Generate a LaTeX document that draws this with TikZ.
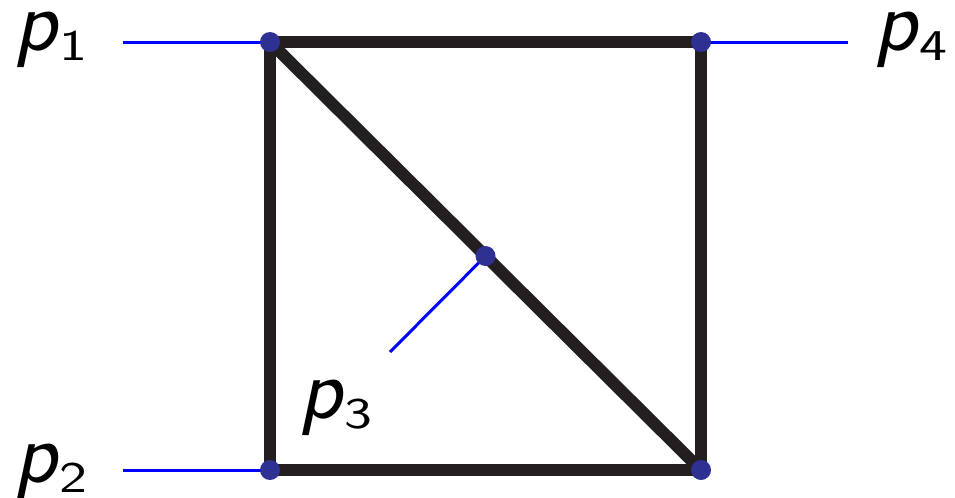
\documentclass[tikz,border=0pt]{standalone}
\usepackage{fontspec}
\usepackage{graphicx}
\definecolor{framec}{RGB}{35,31,32}
\definecolor{dotc}{RGB}{46,49,146}
\definecolor{legc}{RGB}{0,0,255}
\newcommand{\plab}[1]{{\fontsize{50}{54}\selectfont\sffamily\itshape p}\raisebox{-6pt}{\hspace{1.5pt}\scalebox{1.35}[1]{\fontsize{25}{28}\selectfont\sffamily #1}}}
\begin{document}
\begin{tikzpicture}[x=0.02cm,y=-0.02cm,
  frame/.style={draw=framec,line width=0.24cm,line join=miter},
  leg/.style={draw=legc,line width=0.06cm},
  vdot/.style={circle,fill=dotc,inner sep=0pt,minimum size=0.4cm},
  lab/.style={anchor=base west,inner sep=0pt,text=black,text height=20pt,text depth=7pt}]
\useasboundingbox (0,0) rectangle (955,497);
\coordinate (A) at (270,42);
\coordinate (B) at (701,42);
\coordinate (C) at (701,470);
\coordinate (D) at (270,470);
\coordinate (M) at (485.5,256);
\coordinate (e1) at (123,42);
\coordinate (e4) at (848,42);
\coordinate (e2) at (123,470);
\coordinate (e3) at (390,352);
\draw[frame] (A) -- (B) -- (C) -- (D) -- cycle;
\draw[frame] (A) -- (C);
\draw[leg] (e1) -- (A);
\draw[leg] (B) -- (e4);
\draw[leg] (e2) -- (D);
\draw[leg] (M) -- (e3);
\node[vdot] (dA) at (A) {};
\node[vdot] (dB) at (B) {};
\node[vdot] (dC) at (C) {};
\node[vdot] (dD) at (D) {};
\node[vdot] (dM) at (M) {};
\node[lab] (l1) at (14,50) {\plab{1}};
\node[lab] (l4) at (874,50) {\plab{4}};
\node[lab] (l2) at (14,482) {\plab{2}};
\node[lab] (l3) at (299,418) {\plab{3}};
\end{tikzpicture}
\end{document}
